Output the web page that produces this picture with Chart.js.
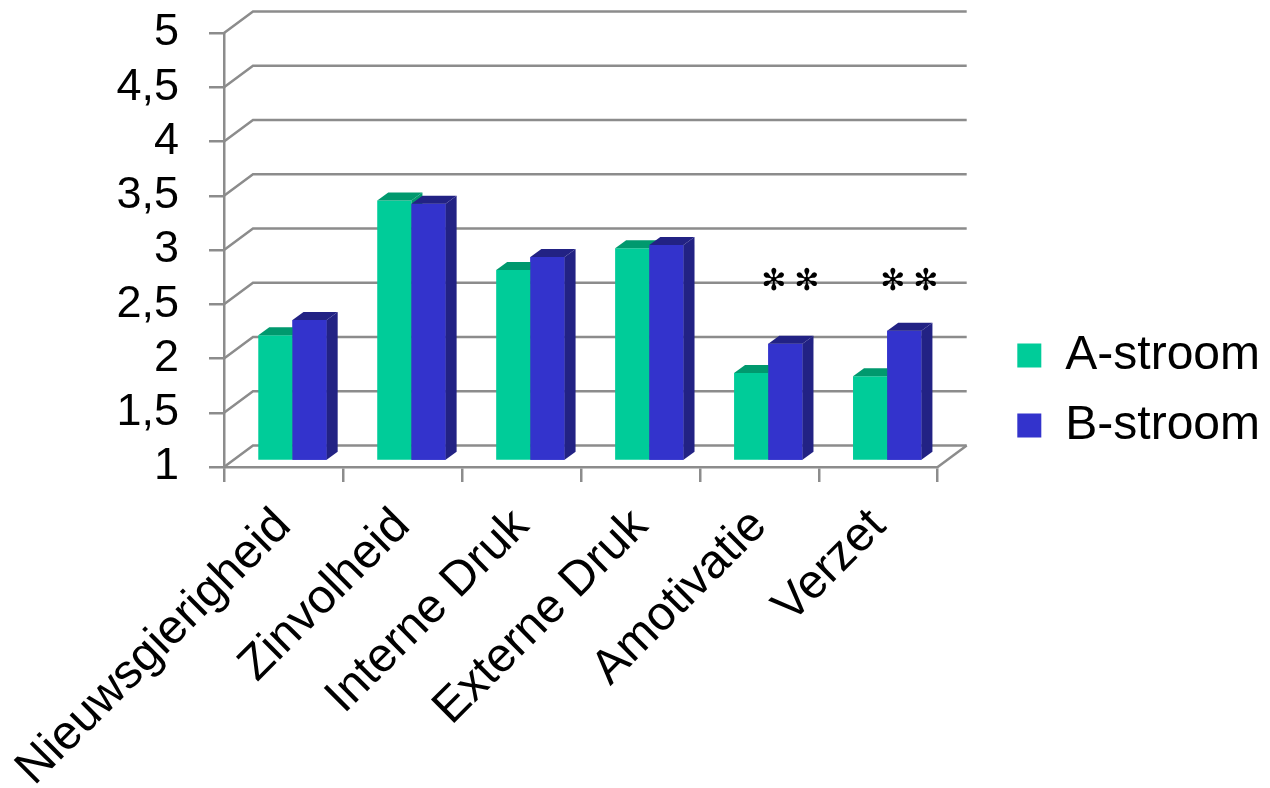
<!DOCTYPE html>
<html><head><meta charset="utf-8">
<script src="https://cdn.jsdelivr.net/npm/chart.js@4.4.1/dist/chart.umd.min.js"></script>
<style>html,body{margin:0;padding:0;background:#fff;overflow:hidden}#wrap{width:1270px;height:788px}</style>
</head><body><div id="wrap"><canvas id="c" width="1270" height="788"></canvas></div>
<script>
const categories = ['Nieuwsgierigheid','Zinvolheid','Interne Druk','Externe Druk','Amotivatie','Verzet'];
const seriesNames = ['A-stroom','B-stroom'];
const seriesA = [2.16, 3.40, 2.76, 2.96, 1.81, 1.78];
const seriesB = [2.30, 3.37, 2.88, 2.99, 2.08, 2.20];
const yTickValues = [1, 1.5, 2, 2.5, 3, 3.5, 4, 4.5, 5];
const yTickLabels = ['1','1,5','2','2,5','3','3,5','4','4,5','5'];
const significance = ['', '', '', '', '**', '**'];
const sigLevel = 2.73;

const FONT = "'Liberation Sans', Arial, sans-serif";
const frontColors = ['#00CC99', '#3333CC'];
const shadeColors = ['#00996E', '#222284'];
const GRID = '#8c8c8c';
const BAR_DX = 9, BAR_DY = -6;      // bar plane offset from front plane
const WALL_DX = 29, WALL_DY = -21.5; // back wall offset
const SIDE_DX = 11, SIDE_DY = -8;   // bar depth
const AREA = {left: 224, right: 937.7, top: 33, bottom: 467};
const CW = 1270, CH = 788;
const LEGEND_SHIFT_Y = -20;

function drawFaces(ctx, el, color) {
  const p = el.getProps(['x','y','base','width'], true);
  const l = p.x - p.width / 2, r = p.x + p.width / 2, t = p.y, b = p.base;
  ctx.fillStyle = color;
  ctx.beginPath();
  ctx.moveTo(r, t); ctx.lineTo(r + SIDE_DX, t + SIDE_DY); ctx.lineTo(r + SIDE_DX, b + SIDE_DY); ctx.lineTo(r, b);
  ctx.closePath(); ctx.fill();
  ctx.beginPath();
  ctx.moveTo(l, t); ctx.lineTo(l + SIDE_DX, t + SIDE_DY); ctx.lineTo(r + SIDE_DX, t + SIDE_DY); ctx.lineTo(r, t);
  ctx.closePath(); ctx.fill();
}

const threeD = {
  id: 'threeD',
  afterLayout(chart) {
    const lg = chart.legend;
    if (!lg) return;
    const dx = CW - lg.right;
    lg.left += dx; lg.right += dx;
    lg.top += LEGEND_SHIFT_Y; lg.bottom += LEGEND_SHIFT_Y;
  },
  beforeDatasetsDraw(chart) {
    const {ctx, chartArea: ca, scales: {y}} = chart;
    ctx.save();
    ctx.strokeStyle = GRID; ctx.lineWidth = 2.5; ctx.lineJoin = 'miter';
    const right = ca.right + WALL_DX;
    yTickValues.forEach(v => {
      const py = y.getPixelForValue(v);
      ctx.beginPath();
      ctx.moveTo(ca.left, py);
      ctx.lineTo(ca.left + WALL_DX, py + WALL_DY);
      ctx.lineTo(right, py + WALL_DY);
      ctx.stroke();
    });
    const pb = y.getPixelForValue(yTickValues[0]);
    ctx.beginPath(); ctx.moveTo(ca.right, pb); ctx.lineTo(right, pb + WALL_DY); ctx.stroke();
    ctx.restore();
    ctx.save();
    ctx.translate(BAR_DX, BAR_DY);
  },
  afterDatasetsDraw(chart) {
    const ctx = chart.ctx;
    const m0 = chart.getDatasetMeta(0), m1 = chart.getDatasetMeta(1);
    m0.data.forEach(el => drawFaces(ctx, el, shadeColors[0]));
    m1.data.forEach(el => el.draw(ctx));
    m1.data.forEach(el => drawFaces(ctx, el, shadeColors[1]));
    ctx.restore();
    const y = chart.scales.y;
    ctx.save();
    ctx.fillStyle = '#000';
    ctx.font = "30px 'DejaVu Sans', sans-serif";
    ctx.textAlign = 'center';
    ctx.textBaseline = 'alphabetic';
    significance.forEach((s, i) => {
      if (!s) return;
      const cx = m1.data[i].x + BAR_DX + 5;
      const cy = y.getPixelForValue(sigLevel);
      const mt = ctx.measureText('\u273B');
      const off = (mt.actualBoundingBoxAscent - mt.actualBoundingBoxDescent) / 2;
      const n = s.length;
      for (let k = 0; k < n; k++) {
        ctx.fillText('\u273B', cx + (k - (n - 1) / 2) * 33, cy + off);
      }
    });
    ctx.restore();
  }
};

new Chart(document.getElementById('c'), {
  type: 'bar',
  data: {
    labels: categories,
    datasets: [
      {label: seriesNames[0], data: seriesA, backgroundColor: frontColors[0], borderWidth: 0, base: yTickValues[0]},
      {label: seriesNames[1], data: seriesB, backgroundColor: frontColors[1], borderWidth: 0, base: yTickValues[0]}
    ]
  },
  options: {
    responsive: false,
    animation: false,
    devicePixelRatio: 1,
    categoryPercentage: 0.575,
    barPercentage: 1,
    layout: {padding: {top: AREA.top, bottom: 0, left: 0, right: 0}},
    plugins: {
      tooltip: {enabled: false},
      legend: {
        position: 'right', align: 'center',
        labels: {
          font: {family: FONT, size: 48}, color: '#000',
          boxWidth: 24, boxHeight: 24, padding: 22,
          sort: (a, b) => a.datasetIndex - b.datasetIndex
        }
      }
    },
    scales: {
      x: {
        afterFit: s => {
          s.height = CH - AREA.bottom;
          s.paddingLeft = 0; s.paddingTop = 0; s.paddingBottom = 0;
          s.paddingRight = CW - AREA.right;
        },
        ticks: {font: {family: FONT, size: 48}, color: '#000', minRotation: 45, maxRotation: 45, padding: 16, labelOffset: 0, autoSkip: false},
        grid: {drawOnChartArea: false, drawTicks: true, tickLength: 15, color: GRID, lineWidth: 2.5, offset: true},
        border: {display: true, color: GRID, width: 2.5}
      },
      y: {
        min: 1, max: 5,
        afterBuildTicks: s => { s.ticks = yTickValues.map(v => ({value: v})); },
        afterFit: s => {
          s.width = AREA.left;
          s.paddingTop = 0; s.paddingBottom = 0; s.paddingLeft = 0; s.paddingRight = 0;
        },
        ticks: {font: {family: FONT, size: 45}, color: '#000', padding: 30, autoSkip: false,
          callback: v => yTickLabels[yTickValues.indexOf(v)]},
        grid: {drawOnChartArea: false, drawTicks: true, tickLength: 15, color: GRID, lineWidth: 2.5},
        border: {display: true, color: GRID, width: 2.5}
      }
    }
  },
  plugins: [threeD]
});
</script>
</body></html>
